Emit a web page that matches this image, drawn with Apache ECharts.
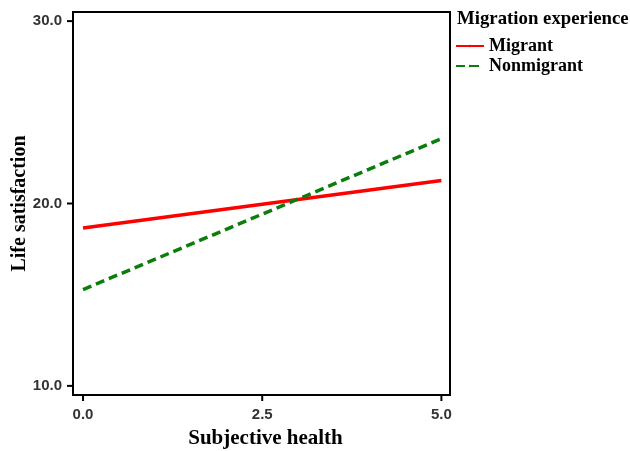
<!DOCTYPE html>
<html><head><meta charset="utf-8">
<script src="https://cdn.jsdelivr.net/npm/echarts@6/dist/echarts.min.js"></script>
<style>html,body{margin:0;padding:0;background:#fff}#c{width:630px;height:451px}</style>
</head><body><div id="c"></div>
<script>
const xPoints = [0, 5];
const migrant = [18.66, 21.26];
const nonmigrant = [15.28, 23.55];
const xTicks = [0, 2.5, 5];
const yTicks = [10, 20, 30];
const xRange = [-0.14, 5.12];
const yRange = [9.5, 30.5];

const chart = echarts.init(document.getElementById('c'), null, {renderer: 'canvas'});
const serif = '"Liberation Serif", "DejaVu Serif", serif';
const sans = '"Liberation Sans", Arial, sans-serif';
const green = '#0b7d0b';

function tickSeries(points, dir) {
  return {
    type: 'custom', silent: true, clip: false, z: 5,
    data: points,
    renderItem: function (params, api) {
      const p = api.coord([api.value(0), api.value(1)]);
      const shape = dir === 'x'
        ? {x1: p[0], y1: p[1], x2: p[0], y2: p[1] + 6}
        : {x1: p[0] - 6, y1: p[1], x2: p[0], y2: p[1]};
      return {type: 'line', shape: shape, style: {stroke: '#000', lineWidth: 2}};
    }
  };
}

chart.setOption({
  animation: false,
  backgroundColor: '#fff',
  grid: {left: 73, top: 12, right: 180, bottom: 56, show: true, borderColor: '#000', borderWidth: 2, containLabel: false, outerBoundsMode: 'none'},
  xAxis: {
    type: 'value', min: xRange[0], max: xRange[1],
    name: 'Subjective health', nameLocation: 'middle', nameGap: 33, nameMoveOverlap: false,
    nameTextStyle: {fontFamily: serif, fontWeight: 'bold', fontSize: 21, color: '#000', padding: [0, 0, 0, 8]},
    axisLine: {show: true, onZero: false, lineStyle: {color: '#000', width: 2}},
    axisTick: {show: false},
    axisLabel: {customValues: xTicks, formatter: v => v.toFixed(1), fontFamily: sans, fontWeight: 'bold', fontSize: 15, color: '#333', margin: 12},
    splitLine: {show: false}
  },
  yAxis: {
    type: 'value', min: yRange[0], max: yRange[1],
    name: 'Life satisfaction', nameLocation: 'middle', nameGap: 43, nameRotate: 90, nameMoveOverlap: false,
    nameTextStyle: {fontFamily: serif, fontWeight: 'bold', fontSize: 20, color: '#000'},
    axisLine: {show: true, onZero: false, lineStyle: {color: '#000', width: 2}},
    axisTick: {show: false},
    axisLabel: {customValues: yTicks, formatter: v => v.toFixed(1), fontFamily: sans, fontWeight: 'bold', fontSize: 15, color: '#333', margin: 11},
    splitLine: {show: false}
  },
  legend: {
    left: 450, top: 32, orient: 'vertical', itemWidth: 28, itemHeight: 3, itemGap: 2,
    textStyle: {fontFamily: serif, fontWeight: 'bold', fontSize: 18, color: '#000'},
    data: ['Migrant', 'Nonmigrant']
  },
  graphic: [{type: 'text', left: 457, top: 10, style: {text: 'Migration experience', font: 'bold 18.8px ' + serif, fill: '#000'}}],
  series: [
    {name: 'Migrant', type: 'line', symbol: 'none', data: xPoints.map((x, i) => [x, migrant[i]]), lineStyle: {color: '#ff0000', width: 3.5}, itemStyle: {color: '#ff0000'}},
    {name: 'Nonmigrant', type: 'line', symbol: 'none', data: xPoints.map((x, i) => [x, nonmigrant[i]]), lineStyle: {color: green, width: 3.5, type: [9, 5]}, itemStyle: {color: green}},
    tickSeries(xTicks.map(v => [v, yRange[0]]), 'x'),
    tickSeries(yTicks.map(v => [xRange[0], v]), 'y')
  ]
});
</script></body></html>
